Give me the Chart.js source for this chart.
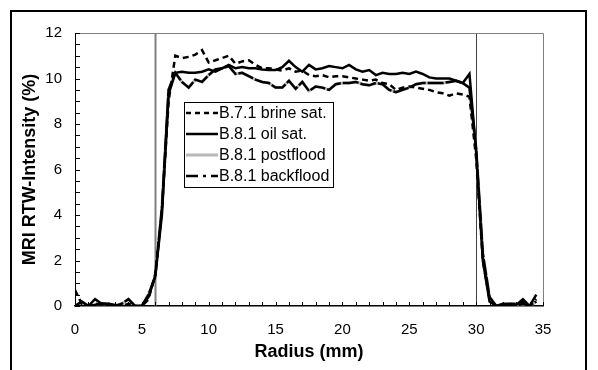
<!DOCTYPE html>
<html>
<head>
<meta charset="utf-8">
<script src="https://cdn.jsdelivr.net/npm/chart.js@4.4.1/dist/chart.umd.min.js"></script>
<style>
html, body { margin: 0; padding: 0; background: #fff; }
</style>
</head>
<body>
<canvas id="Chart1" width="598" height="370"></canvas>
<script>
// radius positions (mm)
var radius = [0,0.5,1,1.5,2,2.5,3,3.5,4,4.5,
	5,5.5,6,6.5,7,7.5,8,8.5,9,9.5,
	10,10.5,11,11.5,12,12.5,13,13.5,14,14.5,
	15,15.5,16,16.5,17,17.5,18,18.5,19,19.5,
	20,20.5,21,21.5,22,22.5,23,23.5,24,24.5,
	25,25.5,26,26.5,27,27.5,28,28.5,29,29.5,
	30,30.5,31,31.5,32,32.5,33,33.5,34,34.5];

// intensity (%)
var brineSat = [0.7,0.1,0,0.1,0.05,0,0.05,0,0.1,0,
	0,0.3,1.4,4.2,9.0,11.0,10.9,10.95,11.05,11.25,
	10.7,10.8,10.9,11.0,10.65,10.75,10.8,10.6,10.45,10.45,
	10.4,10.35,10.45,10.3,10.35,10.15,10.1,10.15,10.05,10.1,
	10.1,10.05,10.0,9.95,9.9,9.95,9.8,9.75,9.5,9.6,
	9.65,9.6,9.55,9.5,9.4,9.35,9.25,9.35,9.3,9.2,
	6.5,2.0,0.3,0,0.05,0.1,0.1,0.2,0,0.3];

var oilSat = [0,0,0,0.3,0.1,0.1,0.05,0,0,0,
	0,0.4,1.3,4.0,9.3,10.25,10.3,10.25,10.25,10.3,
	10.4,10.3,10.45,10.6,10.45,10.5,10.45,10.45,10.4,10.37,
	10.37,10.5,10.78,10.5,10.3,10.6,10.4,10.45,10.55,10.5,
	10.45,10.6,10.4,10.3,10.37,10.15,10.25,10.2,10.2,10.25,
	10.2,10.3,10.2,10.05,10.0,10.0,10.0,9.9,9.8,10.2,
	6.8,2.0,0.2,0,0.1,0.1,0.05,0.3,0,0.5];

var postflood = [0,0.2,0,0.05,0.1,0.1,0,0.1,0.3,0,
	0,0.5,1.3,4.3,9.5,10.25,9.85,9.6,9.95,9.85,
	10.15,10.4,10.45,10.55,10.2,10.25,10.1,9.95,9.85,9.8,
	9.6,9.6,9.9,9.55,9.85,9.45,9.65,9.6,9.5,9.75,
	9.8,9.8,9.85,9.75,9.7,9.8,9.75,9.5,9.4,9.5,
	9.6,9.75,9.8,9.8,9.8,9.8,9.85,9.9,9.8,9.6,
	6.9,2.3,0.4,0,0,0.05,0,0.1,0,0.2];

var backflood = [0,0.2,0,0.05,0.1,0.1,0,0.1,0.3,0,
	0,0.5,1.3,4.3,9.5,10.25,9.85,9.6,9.95,9.85,
	10.15,10.4,10.45,10.55,10.2,10.25,10.1,9.95,9.85,9.8,
	9.6,9.6,9.9,9.55,9.85,9.45,9.65,9.6,9.5,9.75,
	9.8,9.8,9.85,9.75,9.7,9.8,9.75,9.5,9.4,9.5,
	9.6,9.75,9.8,9.8,9.8,9.8,9.85,9.9,9.8,9.6,
	6.9,2.3,0.4,0,0,0.05,0,0.1,0,0.2];

var seriesNames = ['B.7.1 brine sat.', 'B.8.1 oil sat.', 'B.8.1 postflood', 'B.8.1 backflood'];

// core boundaries (mm)
var boundaries = [6, 30];

var fontFamily = "'Liberation Sans', Arial, sans-serif";

function pts(ys) {
	return radius.map(function (x, i) { return {x: x, y: ys[i]}; });
}

// legend samples, ticks, boundary lines and frame
var extras = {
	id: 'extras',
	beforeDatasetsDraw: function (chart) {
		var ctx = chart.ctx, a = chart.chartArea, xs = chart.scales.x;
		ctx.save();
		var cols = ['#808080', '#404040'];
		var widths = [2, 1];
		boundaries.forEach(function (b, i) {
			var px = Math.round(xs.getPixelForValue(b)) + 0.5;
			ctx.strokeStyle = cols[i];
			ctx.lineWidth = widths[i];
			ctx.beginPath();
			ctx.moveTo(px, a.top);
			ctx.lineTo(px, a.bottom);
			ctx.stroke();
		});
		ctx.restore();
	},
	afterDraw: function (chart) {
		var ctx = chart.ctx, a = chart.chartArea;
		var xs = chart.scales.x, ys = chart.scales.y;
		ctx.save();

		// plot box top + right
		ctx.strokeStyle = '#808080';
		ctx.lineWidth = 1;
		ctx.beginPath();
		ctx.moveTo(a.left, a.top + 0.5);
		ctx.lineTo(a.right + 0.5, a.top + 0.5);
		ctx.lineTo(a.right + 0.5, a.bottom);
		ctx.stroke();

		// inward tick marks
		ctx.strokeStyle = '#000';
		ctx.lineWidth = 1;
		ctx.beginPath();
		for (var v = 0; v <= 12; v += 0.5) {
			var py = Math.round(ys.getPixelForValue(v)) + 0.5;
			ctx.moveTo(a.left, py);
			ctx.lineTo(a.left + 5, py);
		}
		for (var r = 0; r <= 35; r += 1) {
			var px = Math.round(xs.getPixelForValue(r)) + 0.5;
			ctx.moveTo(px, a.bottom);
			ctx.lineTo(px, a.bottom - 4);
		}
		ctx.stroke();

		// legend box
		var lx = a.left + 109, ly = a.top + 69;
		ctx.fillStyle = '#fff';
		ctx.fillRect(lx, ly, 149, 85);
		ctx.strokeStyle = '#000';
		ctx.lineWidth = 1;
		ctx.strokeRect(lx + 0.5, ly + 0.5, 149, 85);
		var dashes = [[5, 4], [], [], [12, 5, 3, 5]];
		ctx.font = '16px ' + fontFamily;
		ctx.textBaseline = 'middle';
		chart.data.datasets.forEach(function (ds, i) {
			var rowY = ly + 11 + i * 21;
			ctx.strokeStyle = ds.borderColor;
			ctx.lineWidth = ds.borderWidth;
			ctx.setLineDash(dashes[i]);
			ctx.beginPath();
			ctx.moveTo(lx + 2, rowY);
			ctx.lineTo(lx + 34, rowY);
			ctx.stroke();
			ctx.setLineDash([]);
			ctx.fillStyle = '#000';
			ctx.fillText(ds.label, lx + 35, rowY + 1);
		});

		// outer frame
		ctx.strokeStyle = '#000';
		ctx.lineWidth = 2;
		ctx.strokeRect(11, 11, 575, 420);
		ctx.restore();
	}
};

var context = document.getElementById('Chart1').getContext('2d');

var myChart = new Chart(context, {
	type: 'line',
	data: {
		datasets: [{
			label: seriesNames[0],
			data: pts(brineSat),
			borderColor: '#000',
			borderWidth: 2.5,
			borderDash: [6, 4],
			order: 0
		}, {
			label: seriesNames[1],
			data: pts(oilSat),
			borderColor: '#000',
			borderWidth: 2.5,
			order: 0
		}, {
			label: seriesNames[2],
			data: pts(postflood),
			borderColor: '#b8b8b8',
			borderWidth: 3,
			order: 1
		}, {
			label: seriesNames[3],
			data: pts(backflood),
			borderColor: '#000',
			borderWidth: 2.5,
			borderDash: [16, 2],
			order: 0
		}]
	},
	options: {
		responsive: false,
		animation: false,
		events: [],
		layout: { padding: { top: 33, right: 55, left: 0, bottom: 0 } },
		elements: {
			point: { radius: 0 },
			line: { tension: 0, borderCapStyle: 'butt', borderJoinStyle: 'miter' }
		},
		plugins: {
			legend: { display: false },
			tooltip: { enabled: false }
		},
		scales: {
			x: {
				type: 'linear',
				min: 0,
				max: 35,
				afterFit: function (s) { s.height = 64; },
				grid: { display: false, drawTicks: false },
				border: { display: true, color: '#000', width: 1.5 },
				ticks: {
					stepSize: 5,
					padding: 15,
					color: '#000',
					maxRotation: 0,
					font: { family: fontFamily, size: 15 }
				},
				title: {
					display: true,
					text: 'Radius (mm)',
					color: '#000',
					padding: { top: 0, bottom: 7 },
					font: { family: fontFamily, size: 18, weight: 'bold' }
				}
			},
			y: {
				min: 0,
				max: 12,
				afterFit: function (s) { s.width = 75; },
				grid: { display: false, drawTicks: false },
				border: { display: true, color: '#000', width: 1 },
				ticks: {
					stepSize: 2,
					padding: 13,
					color: '#000',
					font: { family: fontFamily, size: 15 }
				},
				title: {
					display: true,
					text: 'MRI RTW-Intensity (%)',
					color: '#000',
					padding: { top: 19, bottom: 0 },
					font: { family: fontFamily, size: 18, weight: 'bold' }
				}
			}
		}
	},
	plugins: [extras]
});
</script>
</body>
</html>
